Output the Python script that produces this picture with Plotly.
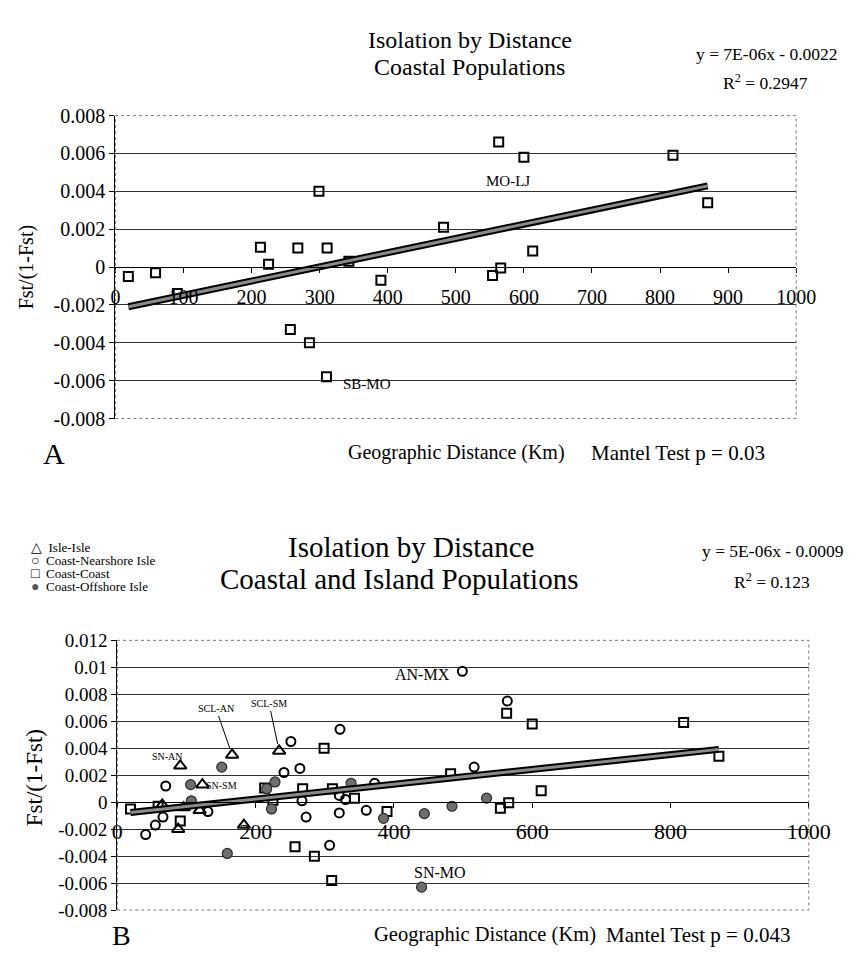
import plotly.graph_objects as go

W, H = 855, 967
FONT = "Liberation Serif, Times New Roman, serif"

# ---------------- data ----------------
# Coast-Coast pairs (shown in both panels)
cc_dist = [19, 59, 91, 213, 225, 268, 299, 311, 343, 390, 257, 285, 310,
           482, 554, 566, 613, 600, 563, 819, 870]
cc_fst = [-0.0005, -0.0003, -0.0014, 0.00105, 0.00015, 0.001, 0.004, 0.001,
          0.0003, -0.0007, -0.0033, -0.004, -0.0058, 0.0021, -0.00045,
          -0.00005, 0.00085, 0.0058, 0.0066, 0.0059, 0.0034]

# Isle-Isle pairs (panel B)
isle_dist = [91, 123, 166, 234, 65, 88, 96, 119, 183]
isle_fst = [0.0027, 0.0013, 0.0035, 0.0038, -0.0002, -0.002, -0.0004, -0.0006, -0.0017]

# Coast-Nearshore Isle pairs (panel B)
near_dist = [41, 55, 66, 70, 131, 241, 251, 264, 267, 273, 307, 321, 321,
             322, 330, 360, 372, 499, 516, 564]
near_fst = [-0.0024, -0.0017, -0.0011, 0.0012, -0.0007, 0.0022, 0.0045, 0.0025,
            0.0001, -0.0011, -0.0032, 0.0005, -0.0008, 0.0054, 0.0002, -0.0006,
            0.0014, 0.0097, 0.0026, 0.0075]

# Coast-Offshore Isle pairs (panel B)
off_dist = [106, 107, 151, 159, 216, 228, 223, 338, 385, 440, 444, 484, 534]
off_fst = [0.0013, 0.0001, 0.0026, -0.0038, 0.001, 0.0015, -0.0005, 0.0014,
           -0.0012, -0.0063, -0.00085, -0.0003, 0.0003]

# fitted trend lines (slope, intercept) as drawn
trendA = (7.5e-6, -0.00224)
trendB = (5.5e-6, -0.00087)

# legend entries (panel B)
legend_names = ["Isle-Isle", "Coast-Nearshore Isle", "Coast-Coast", "Coast-Offshore Isle"]
legend_symbols = ["\u25b3", "\u25cb", "\u25a1", "<span style='color:#555'>\u25cf</span>"]

# tick values / labels
xA_ticks = [0, 100, 200, 300, 400, 500, 600, 700, 800, 900, 1000]
xA_labels = ["0", "100", "200", "300", "400", "500", "600", "700", "800", "900", "1000"]
yA_ticks = [-0.008, -0.006, -0.004, -0.002, 0, 0.002, 0.004, 0.006, 0.008]
yA_labels = ["-0.008", "-0.006", "-0.004", "-0.002", "0", "0.002", "0.004", "0.006", "0.008"]
xB_ticks = [0, 200, 400, 600, 800, 1000]
xB_labels = ["0", "200", "400", "600", "800", "1000"]
yB_ticks = [-0.008, -0.006, -0.004, -0.002, 0, 0.002, 0.004, 0.006, 0.008, 0.01, 0.012]
yB_labels = ["-0.008", "-0.006", "-0.004", "-0.002", "0", "0.002", "0.004",
             "0.006", "0.008", "0.01", "0.012"]

# ---------------- helpers ----------------
def px(x):
    return x / W

def py(y):
    return 1 - y / H

sq = dict(symbol="square-open", size=9, color="black", line=dict(width=2, color="black"))
ci = dict(symbol="circle-open", size=9, color="black", line=dict(width=2, color="black"))
tri = dict(symbol="triangle-up-open", size=11, color="black", line=dict(width=2, color="black"))
fil = dict(symbol="circle", size=10, color="#6e6e6e", line=dict(width=1.2, color="#2a2a2a"))

fig = go.Figure()

# ---- Panel A ----
fig.add_trace(go.Scatter(x=cc_dist, y=cc_fst, mode="markers", marker=sq,
                         xaxis="x", yaxis="y", showlegend=False))
xa0, xa1 = min(cc_dist), max(cc_dist)
ta = [trendA[0] * v + trendA[1] for v in (xa0, xa1)]
fig.add_trace(go.Scatter(x=[xa0, xa1], y=ta, mode="lines", line=dict(color="black", width=7),
                         xaxis="x", yaxis="y", showlegend=False, hoverinfo="skip"))
fig.add_trace(go.Scatter(x=[xa0, xa1], y=ta, mode="lines", line=dict(color="#8a8a8a", width=3),
                         xaxis="x", yaxis="y", showlegend=False, hoverinfo="skip"))

# ---- Panel B ----
fig.add_trace(go.Scatter(x=isle_dist, y=isle_fst, mode="markers", marker=tri, name=legend_names[0],
                         xaxis="x2", yaxis="y2", showlegend=False))
fig.add_trace(go.Scatter(x=near_dist, y=near_fst, mode="markers", marker=ci,
                         name=legend_names[1], xaxis="x2", yaxis="y2", showlegend=False))
fig.add_trace(go.Scatter(x=cc_dist, y=cc_fst, mode="markers", marker=sq, name=legend_names[2],
                         xaxis="x2", yaxis="y2", showlegend=False))
fig.add_trace(go.Scatter(x=off_dist, y=off_fst, mode="markers", marker=fil,
                         name=legend_names[3], xaxis="x2", yaxis="y2", showlegend=False))
allB = cc_dist + isle_dist + near_dist + off_dist
xb0, xb1 = min(allB), max(allB)
tb = [trendB[0] * v + trendB[1] for v in (xb0, xb1)]
fig.add_trace(go.Scatter(x=[xb0, xb1], y=tb, mode="lines", line=dict(color="black", width=7),
                         xaxis="x2", yaxis="y2", showlegend=False, hoverinfo="skip"))
fig.add_trace(go.Scatter(x=[xb0, xb1], y=tb, mode="lines", line=dict(color="#8a8a8a", width=3),
                         xaxis="x2", yaxis="y2", showlegend=False, hoverinfo="skip"))

# ---- axes ----
A_left, A_right, A_top, A_bot, A_zero = 114, 817, 107, 417, 262
B_left, B_right, B_top, B_bot, B_zero = 116, 830, 644, 920, 809

common_x = dict(showline=True, linecolor="black", linewidth=1.3, ticks="outside",
                ticklen=5, tickcolor="black", showgrid=False, zeroline=False,
                range=[0, 1000], anchor="free", fixedrange=True)
common_y = dict(showline=True, linecolor="black", linewidth=1.3, ticks="outside",
                ticklen=5, tickcolor="black", showgrid=True, gridcolor="#333333",
                gridwidth=1.4, zeroline=False, fixedrange=True)

fig.update_layout(
    xaxis=dict(common_x, domain=[px(A_left), px(A_right)], position=py(A_zero),
               tickvals=xA_ticks, ticktext=xA_labels, ticklabelstandoff=7,
               tickfont=dict(family=FONT, size=20, color="black")),
    yaxis=dict(common_y, domain=[py(A_bot), py(A_top)], range=[-0.008, 0.008], anchor="x",
               tickvals=yA_ticks, ticktext=yA_labels,
               tickfont=dict(family=FONT, size=20, color="black")),
    xaxis2=dict(common_x, domain=[px(B_left), px(B_right)], position=py(B_zero),
                tickvals=xB_ticks, ticktext=xB_labels, ticklabelstandoff=5,
                tickfont=dict(family=FONT, size=22, color="black")),
    yaxis2=dict(common_y, domain=[py(B_bot), py(B_top)], range=[-0.008, 0.012], anchor="x2",
                tickvals=yB_ticks, ticktext=yB_labels,
                tickfont=dict(family=FONT, size=19, color="black")),
)

# plot borders (dotted)
for xr, yr in (("x domain", "y domain"), ("x2 domain", "y2 domain")):
    fig.add_shape(type="rect", xref=xr, yref=yr, x0=0, x1=1, y0=0, y1=1,
                  line=dict(color="#777777", width=1, dash="dot"), layer="above")

def txt(text, x, y, size, xanchor="center", angle=0):
    fig.add_annotation(text=text, x=px(x), y=py(y), xref="paper", yref="paper",
                       xanchor=xanchor, yanchor="middle", showarrow=False, textangle=angle,
                       font=dict(family=FONT, size=size, color="black"))

# Panel A text
txt("Isolation by Distance", 480, 30, 24)
txt("Coastal Populations", 480, 57, 24)
txt("y = 7E-06x - 0.0022", 787, 44, 17.5)
txt("R<sup>2</sup> = 0.2947", 785, 73, 17.5)
txt("Fst/(1-Fst)", 22, 262, 20, angle=-90)
txt("Geographic Distance (Km)", 466, 452, 20)
txt("Mantel Test p = 0.03", 695, 452, 21)
txt("A", 51, 453, 30)

# Panel B text
txt("Isolation by Distance", 419, 548, 29)
txt("Coastal and Island Populations", 407, 581, 29)
txt("y = 5E-06x - 0.0009", 718, 553, 17.5, xanchor="left")
txt("R<sup>2</sup> = 0.123", 792, 583, 17.5)
txt("Fst/(1-Fst)", 30, 785, 23, angle=-90)
txt("Geographic Distance (Km)", 496, 945, 20.5)
txt("Mantel Test p = 0.043", 716, 945, 21)
txt("B", 120, 946, 28)

# manual legend (panel B): symbol and name in one text per row
for i, (sym, name) in enumerate(zip(legend_symbols, legend_names)):
    yy = 549 + 13.2 * i
    txt("<span style='font-size:14px'>" + sym + "</span>  " + name, 25, yy, 13, xanchor="left")

# data labels
def lab(text, x, y, xa, ya, size):
    fig.add_annotation(text=text, x=x, y=y, xref=xa, yref=ya, showarrow=False,
                       font=dict(family=FONT, size=size, color="black"))

lab("MO-LJ", 577, 0.00455, "x", "y", 15)
lab("SB-MO", 370, -0.0062, "x", "y", 15)
lab("AN-MX", 442, 0.0095, "x2", "y2", 16)
lab("SN-MO", 466, -0.0052, "x2", "y2", 16)
lab("SN-AN", 72, 0.0034, "x2", "y2", 10)
lab("SN-SM", 151, 0.00126, "x2", "y2", 10)
for t, xv, yv, ax, ay in (("SCL-AN", 166, 0.0035, -16, -46), ("SCL-SM", 234, 0.0038, -10, -47)):
    fig.add_annotation(text=t, x=xv, y=yv, xref="x2", yref="y2", showarrow=True,
                       arrowhead=0, arrowwidth=1, arrowcolor="black", ax=ax, ay=ay,
                       standoff=7, font=dict(family=FONT, size=10, color="black"))

fig.update_layout(
    width=W, height=H, margin=dict(l=0, r=0, t=0, b=0),
    paper_bgcolor="white", plot_bgcolor="white",
    font=dict(family=FONT, color="black"), showlegend=False,
)

fig.write_html("out.html", config={"displayModeBar": False},
               post_script="document.body.style.margin='0';document.body.style.padding='0';"
                           "document.body.style.overflow='hidden';")
